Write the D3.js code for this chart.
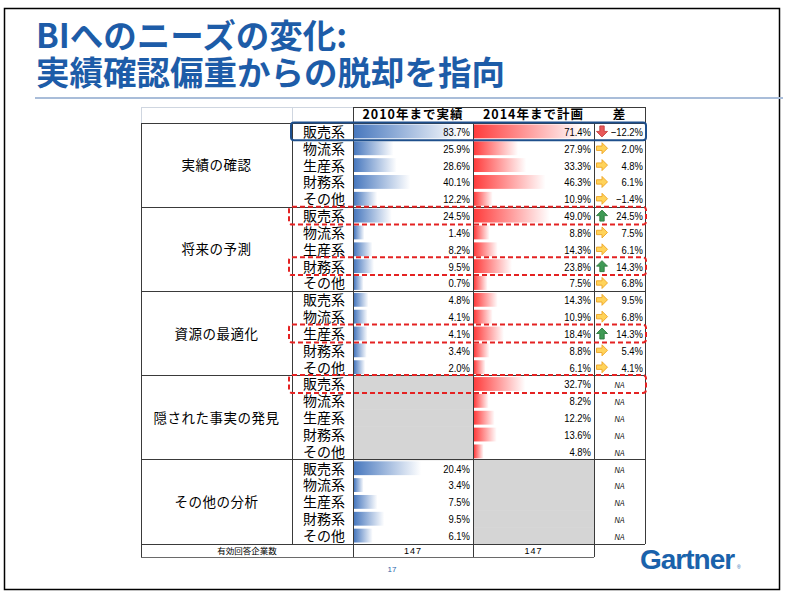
<!DOCTYPE html>
<html>
<head>
<meta charset="utf-8">
<script src="https://cdn.jsdelivr.net/npm/d3@7"></script>
<style>
  body { margin: 0; background: #fff; }
  svg { display: block; }
</style>
</head>
<body>
<svg id="chart" width="787" height="596"></svg>
<script>
// Chart data
const titleLines = ["BIへのニーズの変化:", "実績確認偏重からの脱却を指向"];
const columnTitles = ["2010年まで実績", "2014年まで計画", "差"];
const groups = ["実績の確認", "将来の予測", "資源の最適化", "隠された事実の発見", "その他の分析"];
const systems = ["販売系", "物流系", "生産系", "財務系", "その他"];

// null = no data (grey cell / NA)
const actual2010 = [
    [83.7, 25.9, 28.6, 40.1, 12.2],
    [24.5, 1.4, 8.2, 9.5, 0.7],
    [4.8, 4.1, 4.1, 3.4, 2.0],
    [null, null, null, null, null],
    [20.4, 3.4, 7.5, 9.5, 6.1]
];
const plan2014 = [
    [71.4, 27.9, 33.3, 46.3, 10.9],
    [49.0, 8.8, 14.3, 23.8, 7.5],
    [14.3, 10.9, 18.4, 8.8, 6.1],
    [32.7, 8.2, 12.2, 13.6, 4.8],
    [null, null, null, null, null]
];
const difference = [
    [-12.2, 2.0, 4.8, 6.1, -1.4],
    [24.5, 7.5, 6.1, 14.3, 6.8],
    [9.5, 6.8, 14.3, 5.4, 4.1],
    [null, null, null, null, null],
    [null, null, null, null, null]
];
const footerLabel = "有効回答企業数";
const respondents = [147, 147];
// highlighted rows: [group, system, kind]
const highlights = [
    [0, 0, "solid"],
    [1, 0, "dashed"],
    [1, 3, "dashed"],
    [2, 2, "dashed"],
    [3, 0, "dashed"]
];
const pageNumber = "17";

const svg = d3.select("#chart");
const defs = svg.append("defs");

function gradient(id, color) {
    const g = defs.append("linearGradient").attr("id", id)
        .attr("x1", "0%").attr("x2", "100%").attr("y1", "0%").attr("y2", "0%");
    g.append("stop").attr("offset", "0%").attr("stop-color", color);
    g.append("stop").attr("offset", "100%").attr("stop-color", "#ffffff");
}
gradient("blueBar", "#4878be");
gradient("redBar", "#ff3c3c");

// Slide frame and title
svg.append("rect")
    .attr("x", 4.5).attr("y", 8.5).attr("width", 775).attr("height", 581)
    .attr("fill", "none").attr("stroke", "#000").attr("stroke-width", 1.5);

svg.selectAll(".title")
    .data(titleLines)
    .enter()
    .append("text")
    .attr("class", "title")
    .attr("x", 36)
    .attr("y", (d, i) => 48 + i * 37)
    .attr("fill", "#1d5ca8")
    .style("font-family", "'Noto Sans CJK JP', sans-serif")
    .style("font-weight", "bold")
    .style("font-size", "33.5px")
    .text(d => d);

svg.append("line")
    .attr("x1", 35).attr("x2", 783).attr("y1", 98).attr("y2", 98)
    .attr("stroke", "#a9bdd9").attr("stroke-width", 2);

// Table layout
const colX = [141, 292, 353, 473, 594, 645];
const headTop = 107, bodyTop = 123, bodyBottom = 544, footBottom = 557;
const nRows = groups.length * systems.length;

const y = d3.scaleBand()
    .domain(d3.range(nRows))
    .range([bodyTop, bodyBottom]);
const rowH = y.bandwidth();
const groupTop = gi => y(gi * systems.length);
const groupBottom = gi => y(gi * systems.length + systems.length - 1) + rowH;

// Flatten into rows
const rows = [];
groups.forEach((g, gi) => systems.forEach((s, si) => rows.push({
    gi, si, idx: gi * systems.length + si, system: s,
    a: actual2010[gi][si], p: plan2014[gi][si], d: difference[gi][si]
})));

// Data bar scales (Excel-style: shortest bar keeps a minimum length)
const w1 = colX[3] - colX[2], w2 = colX[4] - colX[3];
const mainActual = actual2010.slice(0, 3).flat();
const otherActual = actual2010[4];
const xActual = d3.scaleLinear().domain(d3.extent(mainActual)).range([0.08 * w1, 0.9 * w1]);
const xActualOther = d3.scaleLinear().domain(d3.extent(otherActual)).range([0.08 * w1, 0.56 * w1]);
const xPlan = d3.scaleLinear().domain(d3.extent(plan2014.flat().filter(v => v != null))).range([0.08 * w2, 0.9 * w2]);

// Grey "no data" cells
svg.selectAll(".na1")
    .data(rows.filter(r => r.a == null))
    .enter().append("rect")
    .attr("x", colX[2]).attr("y", r => y(r.idx))
    .attr("width", w1).attr("height", rowH + 0.5)
    .attr("fill", "#d5d5d5");
svg.selectAll(".na2")
    .data(rows.filter(r => r.p == null))
    .enter().append("rect")
    .attr("x", colX[3]).attr("y", r => y(r.idx))
    .attr("width", w2).attr("height", rowH + 0.5)
    .attr("fill", "#d5d5d5");

// Bars
svg.selectAll(".bar1")
    .data(rows.filter(r => r.a != null))
    .enter().append("rect")
    .attr("x", colX[2] + 1)
    .attr("y", r => y(r.idx) + 1.5)
    .attr("width", r => (r.gi === 4 ? xActualOther : xActual)(r.a))
    .attr("height", rowH - 3)
    .attr("fill", "url(#blueBar)");
svg.selectAll(".bar2")
    .data(rows.filter(r => r.p != null))
    .enter().append("rect")
    .attr("x", colX[3] + 1)
    .attr("y", r => y(r.idx) + 1.5)
    .attr("width", r => xPlan(r.p))
    .attr("height", rowH - 3)
    .attr("fill", "url(#redBar)");

// Grid lines
const grid = svg.append("g").attr("stroke", "#3a3a3a").attr("stroke-width", 1).attr("shape-rendering", "crispEdges");
// header (light part on left)
grid.append("path").attr("d", `M${colX[0]},${bodyTop}V${headTop}H${colX[2]}M${colX[1]},${headTop}V${bodyTop}`)
    .attr("stroke", "#cfd6e0").attr("fill", "none");
grid.append("path").attr("d", `M${colX[2]},${headTop}H${colX[5]}V${bodyBottom}M${colX[2]},${headTop}V${bodyTop}`)
    .attr("fill", "none");
// horizontal group lines
grid.selectAll(".gl")
    .data(d3.range(groups.length + 1))
    .enter().append("line")
    .attr("x1", colX[0]).attr("x2", colX[5])
    .attr("y1", i => i < groups.length ? groupTop(i) : bodyBottom)
    .attr("y2", i => i < groups.length ? groupTop(i) : bodyBottom);
// vertical lines
grid.selectAll(".vl")
    .data([0, 1, 2, 3, 4])
    .enter().append("line")
    .attr("x1", i => colX[i]).attr("x2", i => colX[i])
    .attr("y1", bodyTop)
    .attr("y2", i => i === 1 ? bodyBottom : footBottom);
grid.append("line")
    .attr("x1", colX[0]).attr("x2", colX[4])
    .attr("y1", footBottom).attr("y2", footBottom)
    .attr("stroke", "#6a6a6a");

// Header text
svg.selectAll(".colTitle")
    .data(columnTitles)
    .enter().append("text")
    .attr("x", (d, i) => (colX[i + 2] + colX[i + 3]) / 2)
    .attr("y", headTop + 12)
    .attr("text-anchor", "middle")
    .style("font-family", "'Noto Sans CJK JP', sans-serif")
    .style("font-weight", "bold")
    .style("font-size", "12.5px")
    .style("letter-spacing", "1px")
    .text(d => d);

// Group labels
svg.selectAll(".group")
    .data(groups)
    .enter().append("text")
    .attr("x", (colX[0] + colX[1]) / 2)
    .attr("y", (d, i) => (groupTop(i) + groupBottom(i)) / 2 + 5)
    .attr("text-anchor", "middle")
    .style("font-family", "'Noto Sans CJK JP', sans-serif")
    .style("font-size", "13.5px")
    .style("letter-spacing", "0.5px")
    .text(d => d);

// System labels
svg.selectAll(".system")
    .data(rows)
    .enter().append("text")
    .attr("x", colX[1] + 11)
    .attr("y", r => y(r.idx) + rowH - 3)
    .style("font-family", "'Noto Sans CJK JP', sans-serif")
    .style("font-size", "14px")
    .text(r => r.system);

// Values (narrowed to mimic the condensed spreadsheet font)
const fmt = v => d3.format(".1f")(v) + "%";
const numFont = "'Liberation Sans', Arial, sans-serif";
const narrow = (x, yy) => `translate(${x},${yy}) scale(0.86,1)`;
svg.selectAll(".v1")
    .data(rows.filter(r => r.a != null))
    .enter().append("text")
    .attr("transform", r => narrow(colX[3] - 3, y(r.idx) + rowH - 4))
    .attr("text-anchor", "end")
    .style("font-family", numFont)
    .style("font-size", "11px")
    .text(r => fmt(r.a));
svg.selectAll(".v2")
    .data(rows.filter(r => r.p != null))
    .enter().append("text")
    .attr("transform", r => narrow(colX[4] - 3, y(r.idx) + rowH - 4))
    .attr("text-anchor", "end")
    .style("font-family", numFont)
    .style("font-size", "11px")
    .text(r => fmt(r.p));
svg.selectAll(".v3")
    .data(rows)
    .enter().append("text")
    .attr("transform", r => narrow(r.d == null ? (colX[4] + colX[5]) / 2 : colX[5] - 2, y(r.idx) + rowH - 4))
    .attr("text-anchor", r => r.d == null ? "middle" : "end")
    .style("font-family", numFont)
    .style("font-size", r => r.d == null ? "8.5px" : "11px")
    .style("font-style", r => r.d == null ? "italic" : "normal")
    .text(r => r.d == null ? "NA" : fmt(r.d));

// Icon set arrows in the difference column
const iconOf = v => v >= 10 ? "up" : v <= -10 ? "down" : "side";
const arrowPaths = {
    side: "M0,3H5V0L10,5L5,10V7H0Z",
    up: "M5,0L10,5H7V10H3V5H0Z",
    down: "M3,0H7V5H10L5,10L0,5H3Z"
};
const arrowFill = { side: "#ffd35a", up: "#3f9a55", down: "#e8595a" };
const arrowStroke = { side: "#eea320", up: "#2c7a3e", down: "#c43c3c" };
svg.selectAll(".icon")
    .data(rows.filter(r => r.d != null))
    .enter().append("path")
    .attr("transform", r => `translate(${colX[4] + 2.5},${y(r.idx) + rowH / 2 - 5.5}) scale(1.1)`)
    .attr("d", r => arrowPaths[iconOf(r.d)])
    .attr("fill", r => arrowFill[iconOf(r.d)])
    .attr("stroke", r => arrowStroke[iconOf(r.d)])
    .attr("stroke-width", 0.8);

// Footer row
svg.append("text")
    .attr("x", (colX[0] + colX[2]) / 2)
    .attr("y", footBottom - 3)
    .attr("text-anchor", "middle")
    .style("font-family", "'Noto Sans CJK JP', sans-serif")
    .style("font-size", "8.5px")
    .text(footerLabel);
svg.selectAll(".resp")
    .data(respondents)
    .enter().append("text")
    .attr("x", (d, i) => (colX[i + 2] + colX[i + 3]) / 2)
    .attr("y", footBottom - 3)
    .attr("text-anchor", "middle")
    .style("font-family", numFont)
    .style("font-size", "9px")
    .style("letter-spacing", "1px")
    .text(d => d);

// Highlight boxes
svg.selectAll(".hl")
    .data(highlights)
    .enter().append("rect")
    .attr("x", h => h[2] === "solid" ? colX[1] - 1 : colX[1] - 3)
    .attr("y", h => y(h[0] * systems.length + h[1]) - 0.5)
    .attr("width", h => colX[5] - colX[1] + (h[2] === "solid" ? 2 : 4))
    .attr("height", rowH + 1)
    .attr("rx", 3)
    .attr("fill", "none")
    .attr("stroke", h => h[2] === "solid" ? "#1e4f8c" : "#e42222")
    .attr("stroke-width", 2)
    .attr("stroke-dasharray", h => h[2] === "solid" ? null : "5,3");

// Page number and logo
svg.append("text")
    .attr("x", 392).attr("y", 572)
    .attr("text-anchor", "middle")
    .attr("fill", "#2a64aa")
    .style("font-family", "'Liberation Sans', sans-serif")
    .style("font-size", "8px")
    .text(pageNumber);
svg.append("text")
    .attr("x", 640).attr("y", 569)
    .attr("fill", "#1a62ab")
    .style("font-family", "'Liberation Sans', Arial, sans-serif")
    .style("font-weight", "bold")
    .style("font-size", "28px")
    .style("letter-spacing", "-1px")
    .text("Gartner");
svg.append("text")
    .attr("x", 737).attr("y", 569)
    .attr("fill", "#1a62ab")
    .style("font-family", "'Liberation Sans', sans-serif")
    .style("font-size", "5px")
    .text("®");
</script>
</body>
</html>
